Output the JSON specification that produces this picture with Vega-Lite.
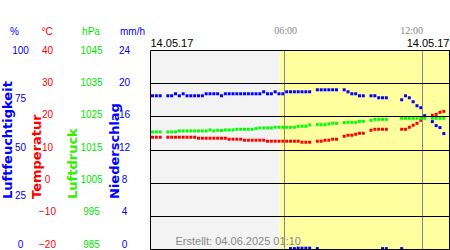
{
  "$schema": "https://vega.github.io/schema/vega-lite/v6.json",
  "width": 299,
  "height": 199,
  "autosize": {"type": "none"},
  "padding": {"left": 150, "top": 50, "right": 1, "bottom": 1},
  "background": "white",
  "config": {
    "view": {"stroke": null},
    "axis": {"labelFont": "Liberation Sans", "titleFont": "Liberation Sans"}
  },
  "datasets": {
    "tageslicht": [
      {"von": "2017-05-14 00:10", "bis": "2017-05-14 05:48", "phase": "Nacht"},
      {"von": "2017-05-14 05:48", "bis": "2017-05-14 13:10", "phase": "Tag"}
    ],
    "messwerte": [
      {"zeit": "2017-05-14 00:10", "lf": 77, "t": 13.7, "p": 1020.3},
      {"zeit": "2017-05-14 00:20", "lf": 77, "t": 13.7, "p": 1020.3},
      {"zeit": "2017-05-14 00:30", "lf": 77, "t": 13.7, "p": 1020.3},
      {"zeit": "2017-05-14 00:50", "lf": 77, "t": 13.7, "p": 1020.3},
      {"zeit": "2017-05-14 01:00", "lf": 77, "t": 13.7, "p": 1020.3},
      {"zeit": "2017-05-14 01:10", "lf": 78, "t": 13.7, "p": 1020.3},
      {"zeit": "2017-05-14 01:20", "lf": 77, "t": 13.7, "p": 1020.6},
      {"zeit": "2017-05-14 01:30", "lf": 78, "t": 13.7, "p": 1020.6},
      {"zeit": "2017-05-14 01:40", "lf": 77, "t": 13.7, "p": 1020.6},
      {"zeit": "2017-05-14 01:50", "lf": 77, "t": 13.7, "p": 1020.6},
      {"zeit": "2017-05-14 02:00", "lf": 77, "t": 13.7, "p": 1020.6},
      {"zeit": "2017-05-14 02:10", "lf": 77, "t": 13.4, "p": 1020.6},
      {"zeit": "2017-05-14 02:20", "lf": 77, "t": 13.4, "p": 1020.6},
      {"zeit": "2017-05-14 02:30", "lf": 78, "t": 13.4, "p": 1020.6},
      {"zeit": "2017-05-14 02:40", "lf": 78, "t": 13.4, "p": 1020.9},
      {"zeit": "2017-05-14 02:50", "lf": 78, "t": 13.4, "p": 1020.6},
      {"zeit": "2017-05-14 03:00", "lf": 78, "t": 13.4, "p": 1020.8},
      {"zeit": "2017-05-14 03:10", "lf": 77, "t": 13.4, "p": 1020.7},
      {"zeit": "2017-05-14 03:20", "lf": 78, "t": 13.4, "p": 1020.9},
      {"zeit": "2017-05-14 03:30", "lf": 78, "t": 13.1, "p": 1020.9},
      {"zeit": "2017-05-14 03:40", "lf": 78, "t": 13.1, "p": 1020.9},
      {"zeit": "2017-05-14 03:50", "lf": 78, "t": 13.1, "p": 1021.1},
      {"zeit": "2017-05-14 04:00", "lf": 78, "t": 13.1, "p": 1021.1},
      {"zeit": "2017-05-14 04:10", "lf": 78, "t": 12.8, "p": 1021.1},
      {"zeit": "2017-05-14 04:20", "lf": 78, "t": 12.8, "p": 1021.1},
      {"zeit": "2017-05-14 04:30", "lf": 78, "t": 12.8, "p": 1021.1},
      {"zeit": "2017-05-14 04:40", "lf": 78, "t": 12.8, "p": 1021.3},
      {"zeit": "2017-05-14 04:50", "lf": 78, "t": 12.8, "p": 1021.5},
      {"zeit": "2017-05-14 05:00", "lf": 79, "t": 12.8, "p": 1021.5},
      {"zeit": "2017-05-14 05:10", "lf": 78, "t": 12.5, "p": 1021.5},
      {"zeit": "2017-05-14 05:20", "lf": 78, "t": 12.5, "p": 1021.5},
      {"zeit": "2017-05-14 05:30", "lf": 79, "t": 12.5, "p": 1021.7},
      {"zeit": "2017-05-14 05:40", "lf": 78, "t": 12.5, "p": 1021.7},
      {"zeit": "2017-05-14 05:50", "lf": 78, "t": 12.5, "p": 1021.7},
      {"zeit": "2017-05-14 06:00", "lf": 79, "t": 12.5, "p": 1021.7},
      {"zeit": "2017-05-14 06:10", "lf": 79, "t": 12.5, "p": 1021.7, "rr": 0.05},
      {"zeit": "2017-05-14 06:20", "lf": 79, "t": 12.5, "p": 1021.7, "rr": 0.05},
      {"zeit": "2017-05-14 06:30", "lf": 79, "t": 12.5, "p": 1022.0, "rr": 0.1},
      {"zeit": "2017-05-14 06:40", "lf": 79, "t": 12.2, "p": 1022.0, "rr": 0.1},
      {"zeit": "2017-05-14 06:50", "lf": 79, "t": 12.2, "p": 1022.0, "rr": 0.1},
      {"zeit": "2017-05-14 07:00", "lf": 79, "t": 12.2, "p": 1022.4, "rr": 0.1},
      {"zeit": "2017-05-14 07:20", "lf": 80, "t": 12.5, "p": 1022.5, "rr": 0.05},
      {"zeit": "2017-05-14 07:30", "lf": 80, "t": 12.5, "p": 1022.5},
      {"zeit": "2017-05-14 07:40", "lf": 80, "t": 12.8, "p": 1022.5},
      {"zeit": "2017-05-14 07:50", "lf": 80, "t": 12.8, "p": 1022.7},
      {"zeit": "2017-05-14 08:00", "lf": 80, "t": 13.1, "p": 1022.9},
      {"zeit": "2017-05-14 08:10", "lf": 80, "t": 13.1, "p": 1022.9},
      {"zeit": "2017-05-14 08:30", "lf": 80, "t": 14.0, "p": 1023.1},
      {"zeit": "2017-05-14 08:40", "lf": 79, "t": 14.3, "p": 1023.2},
      {"zeit": "2017-05-14 08:50", "lf": 78, "t": 14.3, "p": 1023.2},
      {"zeit": "2017-05-14 09:00", "lf": 78, "t": 14.6, "p": 1023.2},
      {"zeit": "2017-05-14 09:10", "lf": 77, "t": 14.9, "p": 1023.5},
      {"zeit": "2017-05-14 09:20", "lf": 77, "t": 14.9, "p": 1023.5},
      {"zeit": "2017-05-14 09:40", "lf": 77, "t": 15.8, "p": 1023.8},
      {"zeit": "2017-05-14 09:50", "lf": 77, "t": 16.1, "p": 1024.1},
      {"zeit": "2017-05-14 10:00", "lf": 76, "t": 16.1, "p": 1024.1},
      {"zeit": "2017-05-14 10:10", "lf": 76, "t": 16.1, "p": 1024.1, "rr": 0.05},
      {"zeit": "2017-05-14 10:20", "lf": 76, "t": 16.1, "p": 1024.1, "rr": 0.05},
      {"zeit": "2017-05-14 11:00", "lf": 75, "t": 16.1, "p": 1024.4, "rr": 0.05},
      {"zeit": "2017-05-14 11:10", "lf": 77, "t": 16.1, "p": 1024.4},
      {"zeit": "2017-05-14 11:20", "lf": 76, "t": 16.7, "p": 1024.4},
      {"zeit": "2017-05-14 11:30", "lf": 74, "t": 17.3, "p": 1024.4},
      {"zeit": "2017-05-14 11:40", "lf": 72, "t": 17.9, "p": 1024.4},
      {"zeit": "2017-05-14 11:50", "lf": 71, "t": 18.8, "p": 1024.4},
      {"zeit": "2017-05-14 12:00", "lf": 67, "t": null, "p": 1024.4},
      {"zeit": "2017-05-14 12:20", "lf": 64, "t": 20.3, "p": 1024.4},
      {"zeit": "2017-05-14 12:30", "lf": 62, "t": 20.6, "p": 1024.4},
      {"zeit": "2017-05-14 12:40", "lf": 61, "t": 21.2, "p": 1024.4},
      {"zeit": "2017-05-14 12:50", "lf": 58, "t": 21.5, "p": 1024.4}
    ]
  },
  "resolve": {
    "scale": {"y": "independent"},
    "axis": {"x": "independent", "y": "independent"}
  },
  "layer": [
    {
      "data": {"name": "tageslicht"},
      "mark": {"type": "rect"},
      "encoding": {
        "x": {
          "field": "von", "type": "temporal",
          "scale": {"domain": [{"year": 2017, "month": 5, "date": 14, "hours": 0, "minutes": 10}, {"year": 2017, "month": 5, "date": 14, "hours": 13, "minutes": 10}]},
          "axis": {
            "orient": "top", "title": null, "format": "%H:%M",
            "values": [{"year": 2017, "month": 5, "date": 14, "hours": 6}, {"year": 2017, "month": 5, "date": 14, "hours": 12}],
            "labelFont": "Liberation Sans Narrow", "labelFontSize": 10, "labelColor": "#888888",
            "labelBaseline": "alphabetic", "labelAlign": "center", "labelPadding": 16.5, "labelFlush": false,
            "labelOffset": {"condition": {"test": "hours(datum.value) == 12", "value": -11}, "value": 1},
            "ticks": false, "tickSize": 0, "domain": false,
            "grid": true, "gridColor": "#888888", "gridWidth": 1, "gridOpacity": 1, "zindex": 1
          }
        },
        "x2": {"field": "bis"},
        "color": {"field": "phase", "type": "nominal", "scale": {"domain": ["Nacht", "Tag"], "range": ["#f3f3f3", "#ffffa0"]}, "legend": null}
      }
    },
    {
      "data": {"name": "messwerte"},
      "mark": {"type": "point", "shape": "square", "filled": true, "size": 9, "opacity": 1, "color": "#0000ff", "xOffset": 2.5},
      "encoding": {
        "x": {
          "field": "zeit", "type": "temporal",
          "axis": {
            "orient": "top", "title": null, "format": "%d.%m.%y",
            "values": [{"year": 2017, "month": 5, "date": 14, "hours": 0, "minutes": 10}, {"year": 2017, "month": 5, "date": 14, "hours": 13, "minutes": 10}],
            "labelFontSize": 11, "labelColor": "#000000", "labelBaseline": "alphabetic", "labelPadding": 3.5, "labelFlush": true,
            "ticks": false, "tickSize": 0, "domain": false, "grid": false
          }
        },
        "y": {
          "field": "lf", "type": "quantitative", "scale": {"domain": [0, 100]},
          "axis": {
            "orient": "left", "values": [0, 25, 50, 75, 100], "format": "d",
            "labelColor": "#0000ff", "labelFontSize": 10, "labelAlign": "center", "labelBaseline": "middle", "labelPadding": 130,
            "labelOffset": {"condition": [{"test": "datum.value == 0", "value": -5}, {"test": "datum.value == 25", "value": -3.75}, {"test": "datum.value == 50", "value": -2.5}, {"test": "datum.value == 75", "value": -1.25}], "value": 0},
            "ticks": false, "tickSize": 0, "grid": false,
            "domain": true, "domainColor": "#000000", "domainWidth": 1,
            "title": "Luftfeuchtigkeit", "titleColor": "#0000ff", "titleFont": "DejaVu Sans", "titleFontSize": 13, "titleFontWeight": "bold",
            "titleAngle": 270, "titleAlign": "left", "titleBaseline": "alphabetic", "titleX": -139, "titleY": 148.5, "zindex": 1
          }
        }
      }
    },
    {
      "data": {"name": "messwerte"},
      "mark": {"type": "point", "shape": "square", "filled": true, "size": 9, "opacity": 1, "color": "#ff0000", "xOffset": 2.5},
      "encoding": {
        "x": {
          "field": "zeit", "type": "temporal",
          "axis": {
            "orient": "bottom", "labels": false, "ticks": false, "tickSize": 0, "domain": false, "grid": false,
            "title": "Erstellt: 04.06.2025 01:10", "titleColor": "#888888", "titleFontSize": 11, "titleFontWeight": "normal",
            "titleAlign": "left", "titleBaseline": "alphabetic", "titleX": 25, "titleY": -4.5, "zindex": 2
          }
        },
        "y": {
          "field": "t", "type": "quantitative", "scale": {"domain": [-20, 40]},
          "axis": {
            "orient": "left", "values": [-20, -10, 0, 10, 20, 30, 40], "format": "d",
            "labelColor": "#ff0000", "labelFontSize": 10, "labelAlign": "center", "labelBaseline": "middle", "labelPadding": 103,
            "labelOffset": {"condition": [{"test": "datum.value == -20", "value": -5}, {"test": "datum.value == -10", "value": -4.17}, {"test": "datum.value == 0", "value": -3.33}, {"test": "datum.value == 10", "value": -2.5}, {"test": "datum.value == 20", "value": -1.67}, {"test": "datum.value == 30", "value": -0.83}], "value": 0},
            "ticks": false, "tickSize": 0, "domain": false,
            "grid": true, "gridColor": "#000000", "gridWidth": 1, "gridOpacity": 1,
            "title": "Temperatur", "titleColor": "#ff0000", "titleFont": "DejaVu Sans", "titleFontSize": 13, "titleFontWeight": "bold",
            "titleAngle": 270, "titleAlign": "left", "titleBaseline": "alphabetic", "titleX": -109.75, "titleY": 148.5, "zindex": 1
          }
        }
      }
    },
    {
      "data": {"name": "messwerte"},
      "mark": {"type": "point", "shape": "square", "filled": true, "size": 9, "opacity": 1, "color": "#00ff00", "xOffset": 2.5},
      "encoding": {
        "x": {"field": "zeit", "type": "temporal", "axis": null},
        "y": {
          "field": "p", "type": "quantitative", "scale": {"domain": [985, 1045]},
          "axis": {
            "orient": "left", "values": [985, 995, 1005, 1015, 1025, 1035, 1045], "format": "d",
            "labelColor": "#00e600", "labelFontSize": 10, "labelAlign": "center", "labelBaseline": "middle", "labelPadding": 59,
            "labelOffset": {"condition": [{"test": "datum.value == 985", "value": -5}, {"test": "datum.value == 995", "value": -4.17}, {"test": "datum.value == 1005", "value": -3.33}, {"test": "datum.value == 1015", "value": -2.5}, {"test": "datum.value == 1025", "value": -1.67}, {"test": "datum.value == 1035", "value": -0.83}], "value": 0},
            "ticks": false, "tickSize": 0, "domain": false, "grid": false,
            "title": "Luftdruck", "titleColor": "#33ee00", "titleFont": "DejaVu Sans", "titleFontSize": 13, "titleFontWeight": "bold",
            "titleAngle": 270, "titleAlign": "left", "titleBaseline": "alphabetic", "titleX": -73.25, "titleY": 148.5
          }
        }
      }
    },
    {
      "data": {"name": "messwerte"},
      "mark": {"type": "point", "shape": "square", "filled": true, "size": 9, "opacity": 1, "color": "#0000ff", "xOffset": 2.5, "clip": true},
      "encoding": {
        "x": {"field": "zeit", "type": "temporal", "axis": null},
        "y": {
          "field": "rr", "type": "quantitative", "scale": {"domain": [0, 24]},
          "axis": {
            "orient": "left", "values": [0, 4, 8, 12, 16, 20, 24], "format": "d",
            "labelColor": "#0000ff", "labelFontSize": 10, "labelAlign": "center", "labelBaseline": "middle", "labelPadding": 26,
            "labelOffset": {"condition": [{"test": "datum.value == 0", "value": -5}, {"test": "datum.value == 4", "value": -4.17}, {"test": "datum.value == 8", "value": -3.33}, {"test": "datum.value == 12", "value": -2.5}, {"test": "datum.value == 16", "value": -1.67}, {"test": "datum.value == 20", "value": -0.83}], "value": 0},
            "ticks": false, "tickSize": 0, "domain": false, "grid": false,
            "title": "Niederschlag", "titleColor": "#0000ff", "titleFont": "DejaVu Sans", "titleFontSize": 13, "titleFontWeight": "bold",
            "titleAngle": 270, "titleAlign": "left", "titleBaseline": "alphabetic", "titleX": -31.75, "titleY": 148.5
          }
        }
      }
    },
    {
      "data": {"name": "messwerte"},
      "mark": {"type": "point", "opacity": 0},
      "encoding": {
        "x": {"field": "zeit", "type": "temporal", "axis": null},
        "y": {
          "field": "lf", "type": "quantitative",
          "axis": {"orient": "left", "labels": false, "ticks": false, "domain": false, "grid": false,
            "title": "%", "titleColor": "#0000ff", "titleFontSize": 10, "titleFontWeight": "normal",
            "titleAngle": 0, "titleAlign": "center", "titleBaseline": "alphabetic", "titleX": -136, "titleY": -16}
        }
      }
    },
    {
      "data": {"name": "messwerte"},
      "mark": {"type": "point", "opacity": 0},
      "encoding": {
        "x": {"field": "zeit", "type": "temporal", "axis": null},
        "y": {
          "field": "t", "type": "quantitative",
          "axis": {"orient": "left", "labels": false, "ticks": false, "domain": false, "grid": false,
            "title": "°C", "titleColor": "#ff0000", "titleFontSize": 10, "titleFontWeight": "normal",
            "titleAngle": 0, "titleAlign": "center", "titleBaseline": "alphabetic", "titleX": -103.3, "titleY": -16}
        }
      }
    },
    {
      "data": {"name": "messwerte"},
      "mark": {"type": "point", "opacity": 0},
      "encoding": {
        "x": {"field": "zeit", "type": "temporal", "axis": null},
        "y": {
          "field": "p", "type": "quantitative",
          "axis": {"orient": "left", "labels": false, "ticks": false, "domain": false, "grid": false,
            "title": "hPa", "titleColor": "#00e600", "titleFontSize": 10, "titleFontWeight": "normal",
            "titleAngle": 0, "titleAlign": "center", "titleBaseline": "alphabetic", "titleX": -59.5, "titleY": -16}
        }
      }
    },
    {
      "data": {"name": "messwerte"},
      "mark": {"type": "point", "opacity": 0},
      "encoding": {
        "x": {"field": "zeit", "type": "temporal", "axis": null},
        "y": {
          "field": "rr", "type": "quantitative",
          "axis": {"orient": "right", "labels": false, "ticks": false, "grid": false,
            "domain": true, "domainColor": "#000000", "domainWidth": 1,
            "title": "mm/h", "titleColor": "#0000ff", "titleFontSize": 10, "titleFontWeight": "normal",
            "titleAngle": 0, "titleAlign": "center", "titleBaseline": "alphabetic", "titleX": -317, "titleY": -16, "zindex": 1}
        }
      }
    }
  ]
}
